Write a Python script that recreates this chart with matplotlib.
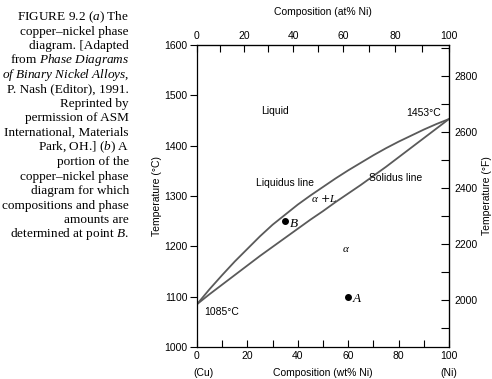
# Cu-Ni phase diagram (Callister fig 9.2b) recreation

import numpy as np
import matplotlib.pyplot as plt

plt.rcParams['mathtext.fontset'] = 'custom'
plt.rcParams['mathtext.it'] = 'Liberation Serif:italic'
plt.rcParams['mathtext.rm'] = 'Liberation Serif'

# phase boundaries, wt% Ni vs temperature (C)
wt_ni = [0, 5, 10, 15, 20, 25, 30, 35, 40, 45, 50,
         55, 60, 65, 70, 75, 80, 85, 90, 95, 100]
liquidus = [1085, 1115, 1143, 1170, 1195, 1220, 1243, 1263, 1283, 1301, 1318,
            1335, 1351, 1366, 1381, 1395, 1408, 1420, 1432, 1443, 1453]
solidus = [1085, 1105, 1124, 1143, 1162, 1181, 1199, 1217, 1235, 1253, 1270,
           1288, 1305, 1322, 1340, 1358, 1377, 1396, 1415, 1434, 1453]

# marked points
pt_names = ["B", "A"]
pt_wt = [35, 60]
pt_temp = [1250, 1100]

caption = [
    "FIGURE 9.2 $(a)$ The",
    "copper\u2013nickel phase",
    "diagram. [Adapted",
    "from $Phase\\ Diagrams$",
    "$of\\ Binary\\ Nickel\\ Alloys,$",
    "P. Nash (Editor), 1991.",
    "Reprinted by",
    "permission of ASM",
    "International, Materials",
    "Park, OH.] $(b)$ A",
    "portion of the",
    "copper\u2013nickel phase",
    "diagram for which",
    "compositions and phase",
    "amounts are",
    "determined at point $B$.",
]

M_CU, M_NI = 63.546, 58.693


def wt2at(w):
    w = np.clip(np.asarray(w, dtype=float), 0, 100)
    n = w / M_NI
    return 100 * n / (n + (100 - w) / M_CU)


def at2wt(a):
    a = np.clip(np.asarray(a, dtype=float), 0, 100)
    m = a * M_NI
    return 100 * m / (m + (100 - a) * M_CU)


def c2f(c):
    return np.asarray(c, dtype=float) * 1.8 + 32


def f2c(f):
    return (np.asarray(f, dtype=float) - 32) / 1.8


fig = plt.figure(figsize=(4.92, 3.79), dpi=100)
ax = fig.add_axes([0.4004, 0.0844, 0.5122, 0.7968])

gray = "#5a5a5a"
ax.plot(wt_ni, liquidus, color=gray, lw=1.3)
ax.plot(wt_ni, solidus, color=gray, lw=1.3)
ax.plot(pt_wt, pt_temp, "o", color="black", ms=4)
for n, w, t in zip(pt_names, pt_wt, pt_temp):
    ax.text(w + 1.5, t - 4, "$" + n + "$", fontsize=9.5, va="center", ha="left")

ax.set_xlim(0, 100)
ax.set_ylim(1000, 1600)

sans = "Liberation Sans"
fs = 7.5
ax.set_xticks(np.arange(0, 101, 20))
ax.set_xticks(np.arange(0, 101, 10), minor=True)
ax.set_yticks(np.arange(1000, 1601, 100))
ax.tick_params(axis="x", which="both", direction="in", length=5, width=0.8,
               labelsize=fs, pad=3)
ax.tick_params(axis="y", direction="out", length=5, width=0.8, labelsize=fs,
               pad=2)
for lab in ax.get_xticklabels() + ax.get_yticklabels():
    lab.set_fontfamily(sans)

top = ax.secondary_xaxis("top", functions=(wt2at, at2wt))
top.set_xticks(np.arange(0, 101, 20))
top.set_xticks(np.arange(0, 101, 10), minor=True)
top.tick_params(which="both", direction="in", length=5, width=0.8,
                labelsize=fs, pad=3)
for lab in top.get_xticklabels():
    lab.set_fontfamily(sans)

right = ax.secondary_yaxis("right", functions=(c2f, f2c))
right.set_yticks(np.arange(2000, 2801, 200))
right.set_yticks(np.arange(1900, 2901, 100), minor=True)
right.tick_params(which="both", direction="in", length=6, width=0.8,
                  labelsize=fs, pad=4)
for lab in right.get_yticklabels():
    lab.set_fontfamily(sans)

for sp in ax.spines.values():
    sp.set_linewidth(0.9)

# labels inside the diagram
ax.text(31, 1468, "Liquid", fontsize=fs, family=sans, ha="center", va="center")
ax.text(97, 1465, "1453\u00b0C", fontsize=fs, family=sans, ha="right", va="center")
ax.text(35, 1326, "Liquidus line", fontsize=fs, family=sans, ha="center", va="center")
ax.text(79, 1336, "Solidus line", fontsize=fs, family=sans, ha="center", va="center")
ax.text(50.5, 1296, "$\\alpha$ +$L$", fontsize=8, ha="center", va="center")
ax.text(59, 1195, "$\\alpha$", fontsize=8, ha="center", va="center")
ax.text(3, 1069, "1085\u00b0C", fontsize=fs, family=sans, ha="left", va="center")

# axis titles
fig.text(0.656, 0.968, "Composition (at% Ni)", fontsize=fs, family=sans,
         ha="center", va="center")
fig.text(0.656, 0.016, "Composition (wt% Ni)", fontsize=fs, family=sans,
         ha="center", va="center")
fig.text(0.413, 0.016, "(Cu)", fontsize=fs, family=sans, ha="center", va="center")
fig.text(0.913, 0.016, "(Ni)", fontsize=fs, family=sans, ha="center", va="center")
fig.text(0.319, 0.483, "Temperature (\u00b0C)", fontsize=fs, family=sans,
         rotation=90, ha="center", va="center")
fig.text(0.99, 0.483, "Temperature (\u00b0F)", fontsize=fs, family=sans,
         rotation=90, ha="center", va="center")

# figure caption
for i, line in enumerate(caption):
    fig.text(0.262, 1 - (17 + 14.5 * i) / 379, line, fontsize=9.5,
             family="Liberation Serif", ha="right", va="center")

plt.savefig("out.png", dpi=100)
